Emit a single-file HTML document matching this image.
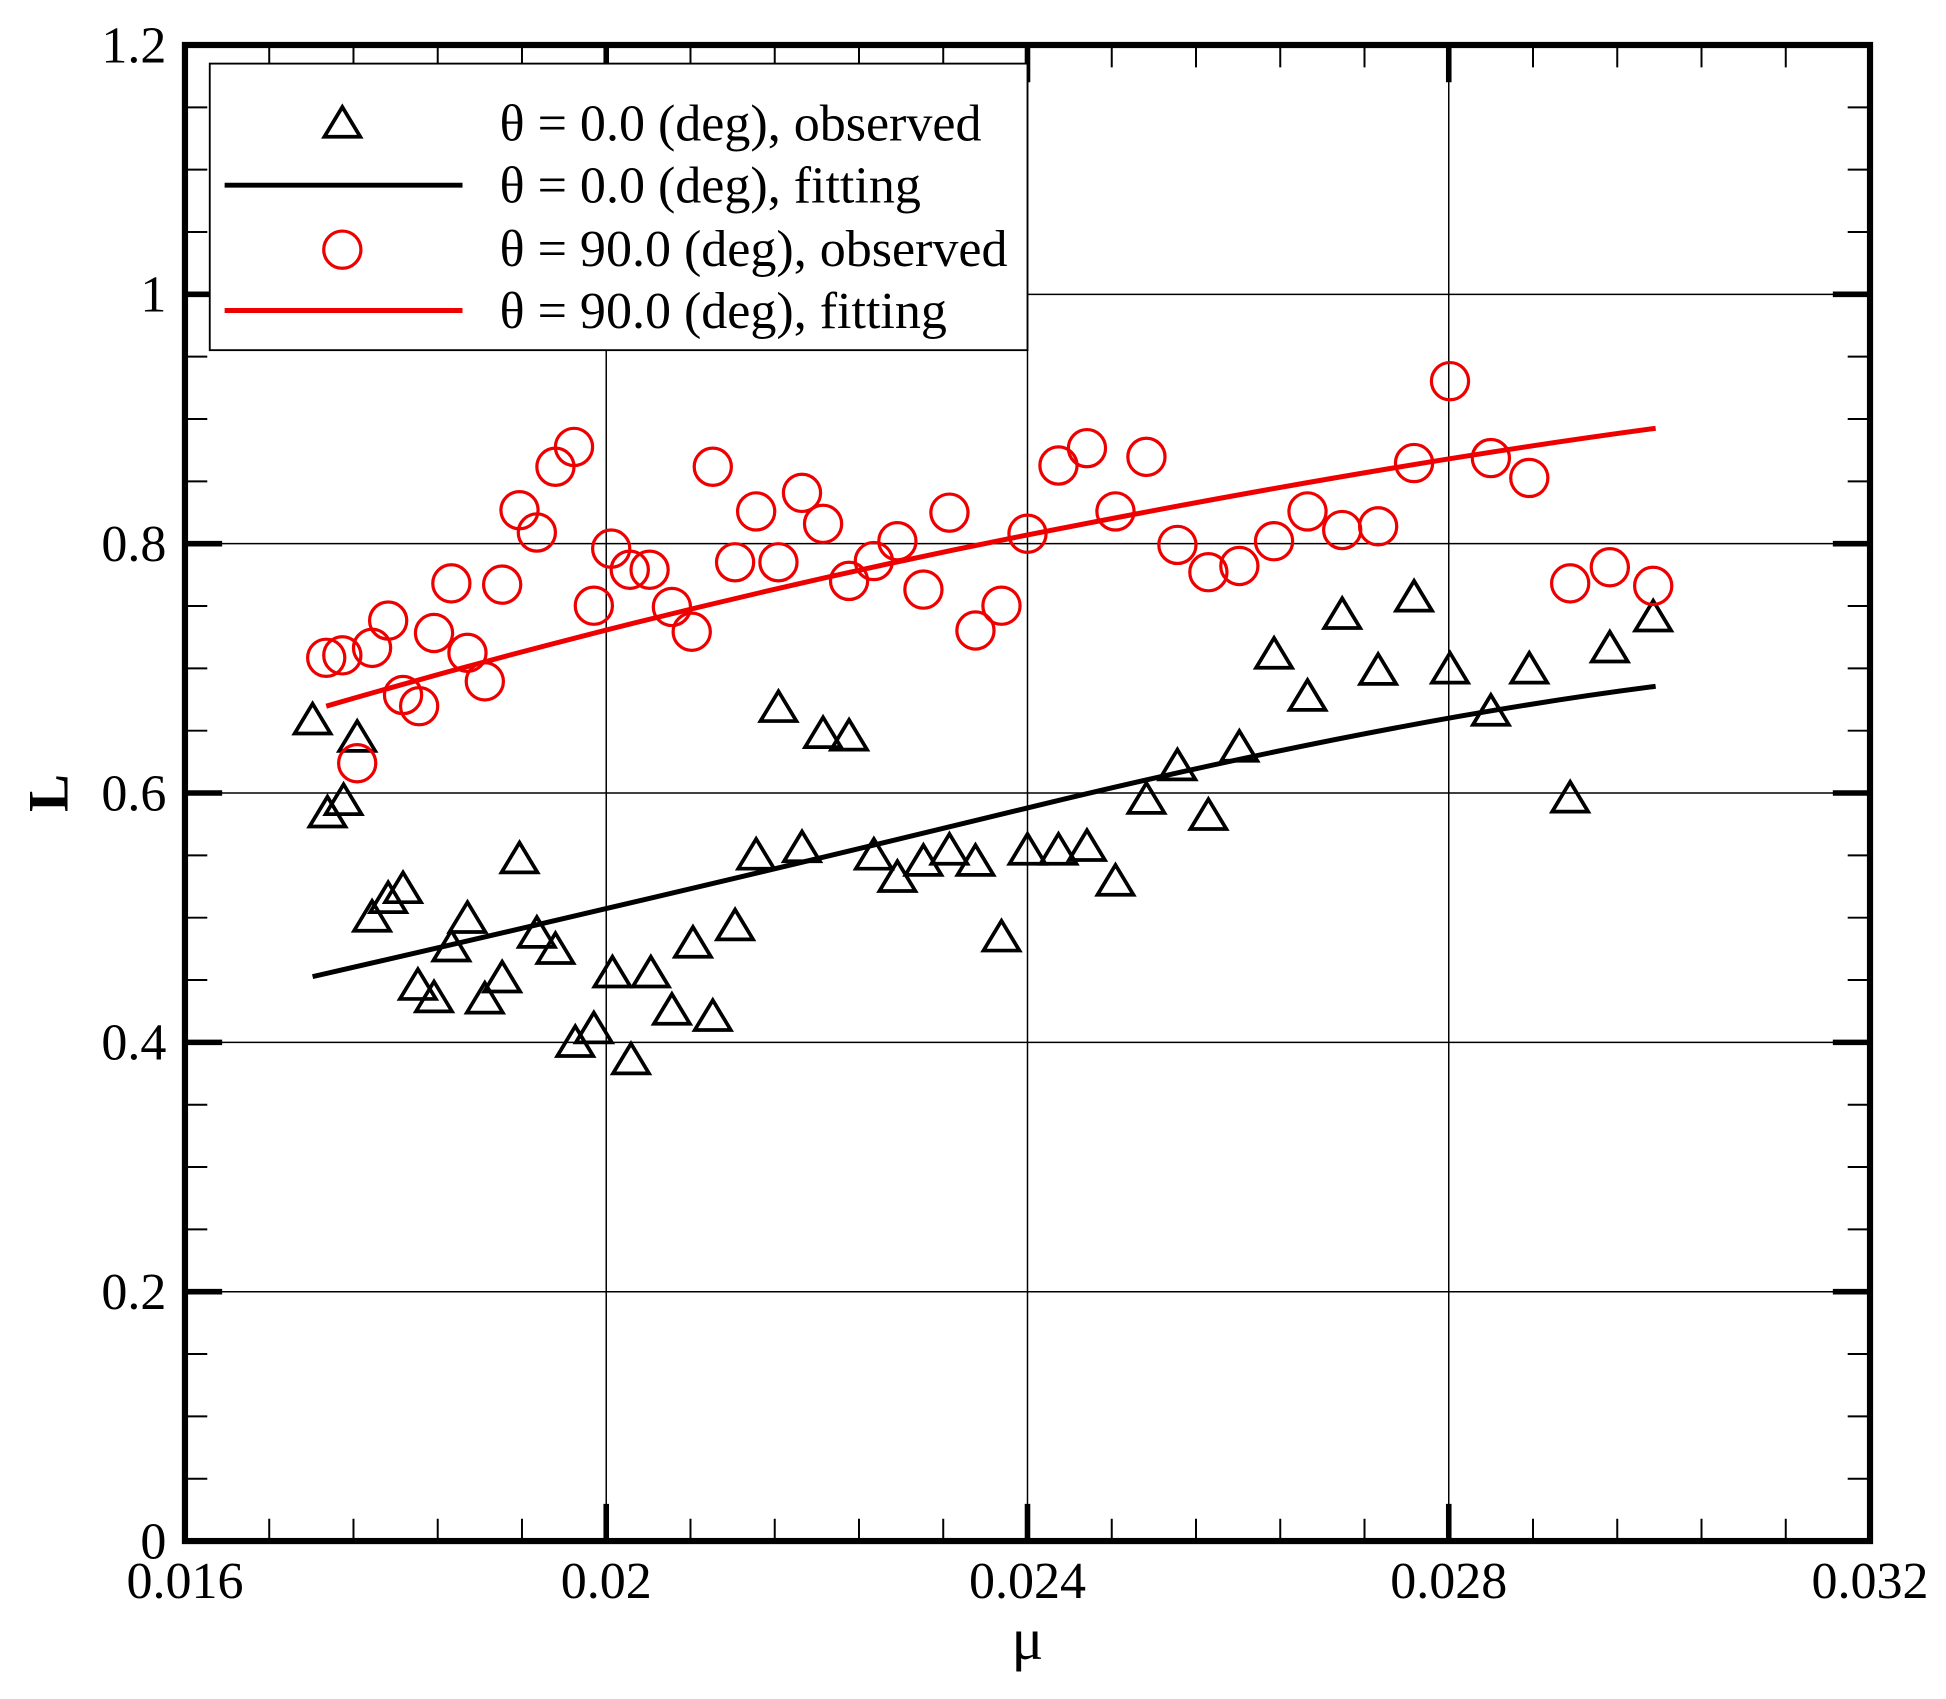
<!DOCTYPE html>
<html><head><meta charset="utf-8"><style>body{margin:0;background:#fff}svg{display:block}</style></head><body>
<svg width="1946" height="1699" xmlns="http://www.w3.org/2000/svg">
<defs>
<path id="tri" d="M0,-15 L14.5,9 L-14.5,9 Z" fill="none" stroke="#000" stroke-width="3" stroke-linejoin="miter"/>
<circle id="cir" r="15" fill="none" stroke="#e00" stroke-width="2.6"/>
</defs>
<g transform="matrix(1.239 0 0 1.2405 1.6 -0.9)" font-family="Liberation Serif, serif">
<g stroke="#000" stroke-width="1.2">
<line x1="148" y1="1042" x2="1508" y2="1042"/><line x1="148" y1="841" x2="1508" y2="841"/>
<line x1="148" y1="640" x2="1508" y2="640"/><line x1="148" y1="439" x2="1508" y2="439"/>
<line x1="148" y1="238" x2="1508" y2="238"/>
<line x1="488" y1="37" x2="488" y2="1243"/><line x1="828" y1="37" x2="828" y2="1243"/><line x1="1168" y1="37" x2="1168" y2="1243"/>
</g>
<g stroke="#000" stroke-width="1.6">
<path d="M216,1243v-18M284,1243v-18M352,1243v-18M420,1243v-18M556,1243v-18M624,1243v-18M692,1243v-18M760,1243v-18M896,1243v-18M964,1243v-18M1032,1243v-18M1100,1243v-18M1236,1243v-18M1304,1243v-18M1372,1243v-18M1440,1243v-18"/>
<path d="M216,37v18M284,37v18M352,37v18M420,37v18M556,37v18M624,37v18M692,37v18M760,37v18M896,37v18M964,37v18M1032,37v18M1100,37v18M1236,37v18M1304,37v18M1372,37v18M1440,37v18"/>
<path d="M148,1192.75h18M148,1142.5h18M148,1092.25h18M148,991.75h18M148,941.5h18M148,891.25h18M148,790.75h18M148,740.5h18M148,690.25h18M148,589.75h18M148,539.5h18M148,489.25h18M148,388.75h18M148,338.5h18M148,288.25h18M148,187.75h18M148,137.5h18M148,87.25h18"/>
<path d="M1508,1192.75h-18M1508,1142.5h-18M1508,1092.25h-18M1508,991.75h-18M1508,941.5h-18M1508,891.25h-18M1508,790.75h-18M1508,740.5h-18M1508,690.25h-18M1508,589.75h-18M1508,539.5h-18M1508,489.25h-18M1508,388.75h-18M1508,338.5h-18M1508,288.25h-18M1508,187.75h-18M1508,137.5h-18M1508,87.25h-18"/>
</g>
<g stroke="#000" stroke-width="4.5">
<path d="M488,1243v-30M828,1243v-30M1168,1243v-30M488,37v30M828,37v30M1168,37v30"/>
<path d="M148,1042h30M148,841h30M148,640h30M148,439h30M148,238h30M1508,1042h-30M1508,841h-30M1508,640h-30M1508,439h-30M1508,238h-30"/>
</g>
<rect x="168" y="52" width="660" height="231" fill="#fff" stroke="#000" stroke-width="1.5"/>
<use href="#tri" x="275" y="102"/>
<line x1="180" y1="150" x2="372" y2="150" stroke="#000" stroke-width="4"/>
<use href="#cir" x="275" y="202"/>
<line x1="180" y1="251" x2="372" y2="251" stroke="#e00" stroke-width="4"/>
<g font-size="42" fill="#000">
<text x="402" y="114">θ = 0.0 (deg), observed</text>
<text x="402" y="164">θ = 0.0 (deg), fitting</text>
<text x="402" y="215">θ = 90.0 (deg), observed</text>
<text x="402" y="265">θ = 90.0 (deg), fitting</text>
</g>
<path d="M251,788 Q540,722 828,652 T1335,554" fill="none" stroke="#000" stroke-width="4"/>
<path d="M262,570 Q545,488 828,432 T1335,346" fill="none" stroke="#e00" stroke-width="4"/>
<g>
<use href="#tri" x="251" y="583"/><use href="#tri" x="263" y="658"/><use href="#tri" x="276" y="648"/><use href="#tri" x="287" y="597"/><use href="#tri" x="299" y="742"/><use href="#tri" x="312" y="727"/><use href="#tri" x="324" y="719"/><use href="#tri" x="336" y="797"/><use href="#tri" x="349" y="807"/><use href="#tri" x="363" y="766"/><use href="#tri" x="376" y="743"/><use href="#tri" x="390" y="808"/><use href="#tri" x="404" y="791"/><use href="#tri" x="418" y="695"/><use href="#tri" x="432" y="755"/><use href="#tri" x="447" y="768"/><use href="#tri" x="463" y="843"/><use href="#tri" x="478" y="832"/><use href="#tri" x="493" y="787"/><use href="#tri" x="508" y="857"/><use href="#tri" x="524" y="787"/><use href="#tri" x="541" y="817"/><use href="#tri" x="558" y="763"/><use href="#tri" x="574" y="822"/><use href="#tri" x="592" y="749"/><use href="#tri" x="609" y="692"/><use href="#tri" x="627" y="573"/><use href="#tri" x="646" y="686"/><use href="#tri" x="663" y="594"/><use href="#tri" x="684" y="596"/><use href="#tri" x="704" y="692"/><use href="#tri" x="723" y="710"/><use href="#tri" x="744" y="697"/><use href="#tri" x="765" y="688"/><use href="#tri" x="786" y="697"/><use href="#tri" x="807" y="758"/><use href="#tri" x="828" y="688"/><use href="#tri" x="853" y="688"/><use href="#tri" x="876" y="685"/><use href="#tri" x="899" y="713"/><use href="#tri" x="924" y="647"/><use href="#tri" x="949" y="620"/><use href="#tri" x="974" y="660"/><use href="#tri" x="999" y="605"/><use href="#tri" x="1027" y="530"/><use href="#tri" x="1054" y="564"/><use href="#tri" x="1082" y="498"/><use href="#tri" x="1111" y="543"/><use href="#tri" x="1140" y="484"/><use href="#tri" x="1169" y="542"/><use href="#tri" x="1202" y="576"/><use href="#tri" x="1233" y="542"/><use href="#tri" x="1266" y="646"/><use href="#tri" x="1298" y="525"/><use href="#tri" x="1333" y="500"/>
</g>
<g>
<use href="#cir" x="262" y="531"/><use href="#cir" x="275" y="529"/><use href="#cir" x="287" y="616"/><use href="#cir" x="299" y="523"/><use href="#cir" x="312" y="501"/><use href="#cir" x="324" y="561"/><use href="#cir" x="337" y="570"/><use href="#cir" x="349" y="511"/><use href="#cir" x="363" y="471"/><use href="#cir" x="376" y="527"/><use href="#cir" x="390" y="550"/><use href="#cir" x="404" y="472"/><use href="#cir" x="418" y="412"/><use href="#cir" x="432" y="430"/><use href="#cir" x="447" y="377"/><use href="#cir" x="462" y="361"/><use href="#cir" x="478" y="489"/><use href="#cir" x="492" y="443"/><use href="#cir" x="507" y="460"/><use href="#cir" x="523" y="460"/><use href="#cir" x="541" y="490"/><use href="#cir" x="557" y="510"/><use href="#cir" x="574" y="377"/><use href="#cir" x="592" y="454"/><use href="#cir" x="609" y="413"/><use href="#cir" x="627" y="454"/><use href="#cir" x="646" y="398"/><use href="#cir" x="663" y="423"/><use href="#cir" x="684" y="469"/><use href="#cir" x="704" y="453"/><use href="#cir" x="723" y="437"/><use href="#cir" x="744" y="476"/><use href="#cir" x="765" y="414"/><use href="#cir" x="786" y="509"/><use href="#cir" x="807" y="489"/><use href="#cir" x="828" y="431"/><use href="#cir" x="853" y="376"/><use href="#cir" x="876" y="362"/><use href="#cir" x="899" y="413"/><use href="#cir" x="924" y="369"/><use href="#cir" x="949" y="440"/><use href="#cir" x="974" y="462"/><use href="#cir" x="999" y="457"/><use href="#cir" x="1027" y="437"/><use href="#cir" x="1054" y="413"/><use href="#cir" x="1082" y="428"/><use href="#cir" x="1111" y="425"/><use href="#cir" x="1140" y="374"/><use href="#cir" x="1169" y="308"/><use href="#cir" x="1202" y="370"/><use href="#cir" x="1233" y="386"/><use href="#cir" x="1266" y="471"/><use href="#cir" x="1298" y="458"/><use href="#cir" x="1333" y="473"/>
</g>
<rect x="148" y="37" width="1360" height="1206" fill="none" stroke="#000" stroke-width="5"/>
<g font-size="42" fill="#000" text-anchor="end">
<text x="133" y="1257">0</text><text x="133" y="1056">0.2</text><text x="133" y="855">0.4</text>
<text x="133" y="654">0.6</text><text x="133" y="453">0.8</text><text x="133" y="252">1</text><text x="133" y="51">1.2</text>
</g>
<g font-size="42" fill="#000" text-anchor="middle">
<text x="148" y="1289">0.016</text><text x="488" y="1289">0.02</text><text x="828" y="1289">0.024</text>
<text x="1168" y="1289">0.028</text><text x="1508" y="1289">0.032</text>
<text x="828" y="1338" font-size="48">μ</text>
</g>
<text transform="translate(53,640) rotate(-90)" text-anchor="middle" font-size="46" font-weight="bold">L</text>
</g>
</svg>
</body></html>
